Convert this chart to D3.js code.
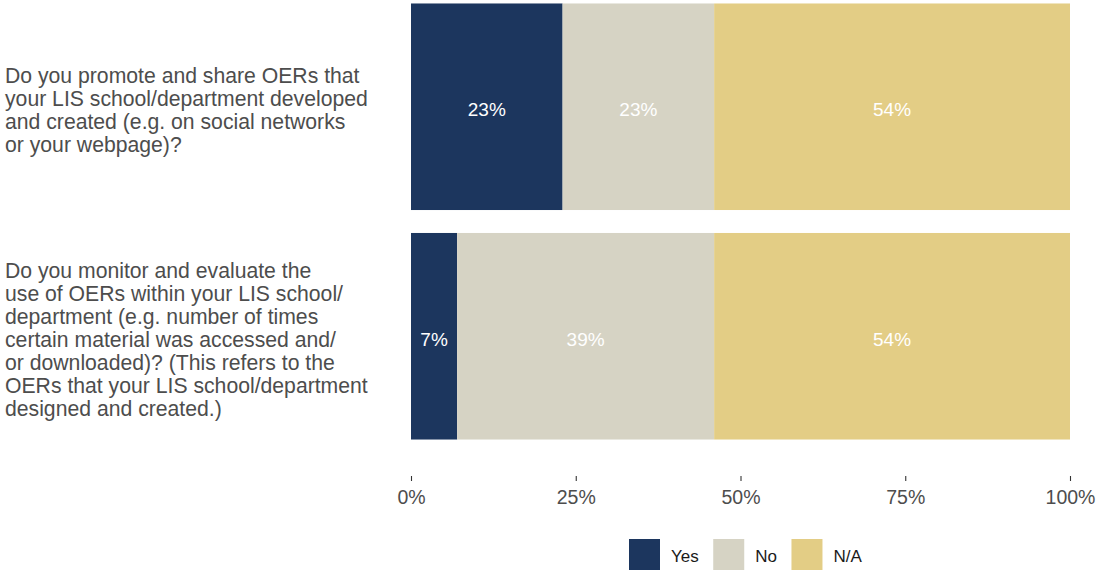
<!DOCTYPE html>
<html>
<head>
<meta charset="utf-8">
<script src="https://cdn.jsdelivr.net/npm/d3@7"></script>
<style>
  html, body { margin: 0; padding: 0; background: #ffffff; }
  svg { display: block; font-family: "Liberation Sans", Arial, sans-serif; }
</style>
</head>
<body>
<svg id="chart" width="1097" height="571"></svg>
<script>
// Survey questions (wrapped as displayed on the y axis)
const questions = [
  ["Do you promote and share OERs that",
   "your LIS school/department developed",
   "and created (e.g. on social networks",
   "or your webpage)?"],
  ["Do you monitor and evaluate the",
   "use of OERs within your LIS school/",
   "department (e.g. number of times",
   "certain material was accessed and/",
   "or downloaded)? (This refers to the",
   "OERs that your LIS school/department",
   "designed and created.)"]
];

// Answer categories and their share of responses (%)
const answers = ["Yes", "No", "N/A"];
const yesValues = [23, 7];
const noValues = [23, 39];
const naValues = [54, 54];

const colors = ["#1c365e", "#d6d3c4", "#e3cd85"];
const xTicks = [0, 25, 50, 75, 100];

const svg = d3.select("#chart");

const rows = questions.map((q, i) => ({
  id: i,
  Yes: yesValues[i],
  No: noValues[i],
  "N/A": naValues[i]
}));

const x = d3.scaleLinear().domain([0, 100]).range([411, 1070]);
const y = d3.scaleBand()
  .domain(rows.map(d => d.id))
  .range([-8, 451])
  .paddingInner(0.1)
  .paddingOuter(0.05);
const color = d3.scaleOrdinal().domain(answers).range(colors);

const stacked = d3.stack().keys(answers)(rows);

// Stacked bars
const layers = svg.append("g").selectAll("g")
  .data(stacked)
  .join("g")
  .attr("fill", s => color(s.key));

layers.selectAll("rect")
  .data(s => s.map(p => ({ p, key: s.key })))
  .join("rect")
  .attr("x", d => x(d.p[0]))
  .attr("width", d => x(d.p[1]) - x(d.p[0]))
  .attr("y", d => y(d.p.data.id))
  .attr("height", y.bandwidth());

// Percentage labels inside each segment
layers.selectAll("text")
  .data(s => s.map(p => ({ p, key: s.key })))
  .join("text")
  .attr("x", d => (x(d.p[0]) + x(d.p[1])) / 2)
  .attr("y", d => y(d.p.data.id) + y.bandwidth() / 2 + 3)
  .attr("dy", "0.35em")
  .attr("text-anchor", "middle")
  .attr("fill", "#ffffff")
  .style("font-size", "19px")
  .text(d => d.p.data[d.key] + "%");

// Question labels on the left
const qGroup = svg.append("g");
const lineH = 23;
rows.forEach((r, i) => {
  const lines = questions[i];
  const cy = y(r.id) + y.bandwidth() / 2 + 3;
  const top = cy - (lines.length - 1) * lineH / 2;
  const t = qGroup.append("text")
    .attr("fill", "#4d4d4d")
    .style("font-size", "21.2px");
  lines.forEach((ln, j) => {
    t.append("tspan")
      .attr("x", 5)
      .attr("y", top + j * lineH)
      .attr("dy", "0.35em")
      .text(ln);
  });
});

// Bottom axis
const xAxis = d3.axisBottom(x)
  .tickValues(xTicks)
  .tickFormat(d => d + "%")
  .tickSize(5)
  .tickPadding(9);

const axisG = svg.append("g")
  .attr("transform", "translate(0,476)")
  .call(xAxis);
axisG.select(".domain").remove();
axisG.selectAll(".tick line").attr("stroke", "#333333").attr("stroke-width", 1.1);
axisG.selectAll(".tick text")
  .attr("fill", "#4d4d4d")
  .style("font-size", "19.5px")
  .style("font-family", "\"Liberation Sans\", Arial, sans-serif");

// Legend
const legend = svg.append("g");
const keySize = 31;
let lx = 629;
const ly = 539;
answers.forEach(a => {
  legend.append("rect")
    .attr("x", lx).attr("y", ly)
    .attr("width", keySize).attr("height", keySize)
    .attr("fill", color(a));
  const t = legend.append("text")
    .attr("x", lx + keySize + 11)
    .attr("y", ly + keySize / 2 + 2)
    .attr("dy", "0.35em")
    .attr("fill", "#1a1a1a")
    .style("font-size", "17px")
    .text(a);
  lx += keySize + 11 + t.node().getComputedTextLength() + 14.5;
});
</script>
</body>
</html>
